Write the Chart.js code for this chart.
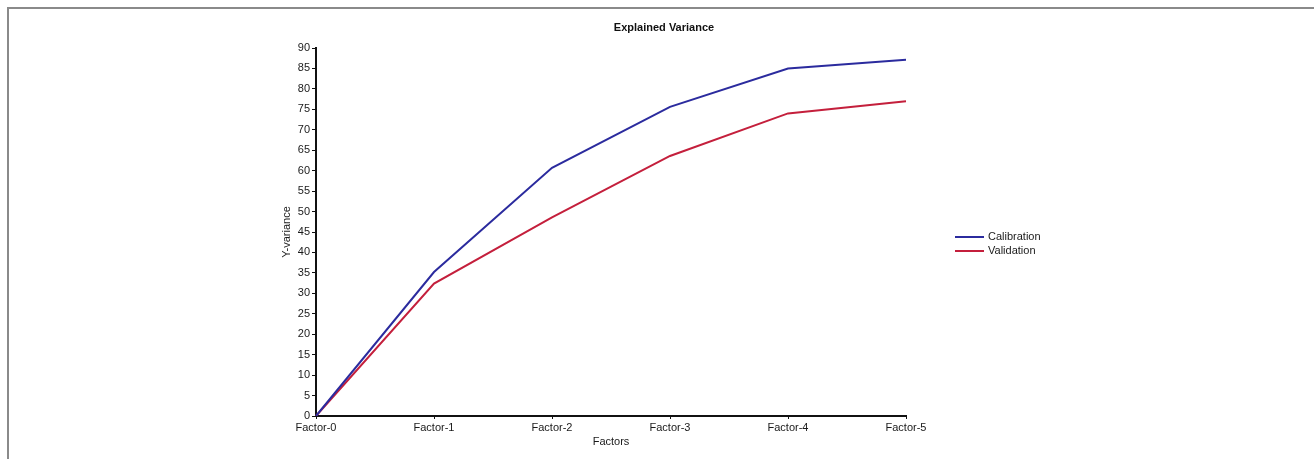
<!DOCTYPE html>
<html>
<head>
<meta charset="utf-8">
<script src="https://cdn.jsdelivr.net/npm/chart.js@4/dist/chart.umd.min.js"></script>
<style>
  html, body { margin: 0; padding: 0; background: #ffffff; }
  #wrap { position: relative; width: 1314px; height: 459px; overflow: hidden; }
  #frame { position: absolute; left: 7px; top: 7px; right: -4px; bottom: -4px;
           border-top: 2px solid #8a8a8a; border-left: 2px solid #8a8a8a; }
  canvas { position: absolute; left: 0; top: 0; }
</style>
</head>
<body>
<div id="wrap">
  <div id="frame"></div>
  <canvas id="chart" width="1314" height="459"></canvas>
</div>
<script>
// Explained Y-variance per number of factors
const factors = ['Factor-0', 'Factor-1', 'Factor-2', 'Factor-3', 'Factor-4', 'Factor-5'];
const calibration = [0, 35.2, 60.7, 75.6, 85.0, 87.1];
const validation = [0, 32.4, 48.6, 63.6, 74.0, 77.0];
const seriesNames = ['Calibration', 'Validation'];
const seriesColors = ['#2b2b9e', '#c41f3c'];
const chartTitle = 'Explained Variance';

const FONT = 'Liberation Sans, Arial, sans-serif';
const INK = '#1a1a1a';

// Title centred over the plot and legend together, legend beside the plot
const sideDecor = {
  id: 'sideDecor',
  afterDraw(chart) {
    const ctx = chart.ctx;
    const area = chart.chartArea;
    ctx.save();
    ctx.font = 'bold 11px ' + FONT;
    ctx.fillStyle = '#111111';
    ctx.textAlign = 'center';
    ctx.textBaseline = 'middle';
    ctx.fillText(chartTitle, area.left + 348, 28);

    const x0 = area.right + 49;
    const y0 = 237;
    ctx.font = '11px ' + FONT;
    ctx.textAlign = 'left';
    chart.data.datasets.forEach((ds, i) => {
      const y = y0 + i * 14;
      ctx.strokeStyle = ds.borderColor;
      ctx.lineWidth = 2;
      ctx.beginPath();
      ctx.moveTo(x0, y);
      ctx.lineTo(x0 + 29, y);
      ctx.stroke();
      ctx.fillStyle = INK;
      ctx.fillText(ds.label, x0 + 33, y);
    });
    ctx.restore();
  }
};

new Chart(document.getElementById('chart'), {
  type: 'line',
  data: {
    labels: factors,
    datasets: [
      { label: seriesNames[0], data: calibration, borderColor: seriesColors[0],
        backgroundColor: seriesColors[0], borderWidth: 2, pointRadius: 0, tension: 0 },
      { label: seriesNames[1], data: validation, borderColor: seriesColors[1],
        backgroundColor: seriesColors[1], borderWidth: 2, pointRadius: 0, tension: 0 }
    ]
  },
  options: {
    responsive: false,
    animation: false,
    events: [],
    layout: { padding: { left: 280, right: 408, top: 48, bottom: 9 } },
    plugins: {
      legend: { display: false },
      tooltip: { enabled: false },
      title: { display: false }
    },
    scales: {
      x: {
        offset: false,
        afterFit(scale) { scale.height = 34; },
        border: { display: true, color: '#111111', width: 2 },
        grid: { display: true, drawOnChartArea: false, drawTicks: true, tickLength: 3, color: '#111111' },
        ticks: { color: INK, font: { family: FONT, size: 11 }, padding: 2, maxRotation: 0, autoSkip: false },
        title: { display: true, text: 'Factors', color: INK, font: { family: FONT, size: 11 }, padding: { top: 0, bottom: 1 } }
      },
      y: {
        min: 0,
        max: 90,
        afterFit(scale) { scale.width = 36; },
        border: { display: true, color: '#111111', width: 2 },
        grid: { display: true, drawOnChartArea: false, drawTicks: true, tickLength: 4, color: '#111111' },
        ticks: { stepSize: 5, color: INK, font: { family: FONT, size: 11 }, padding: 2 },
        title: { display: true, text: 'Y-variance', color: INK, font: { family: FONT, size: 11 }, padding: { top: 0, bottom: 0 } }
      }
    }
  },
  plugins: [sideDecor]
});
</script>
</body>
</html>
